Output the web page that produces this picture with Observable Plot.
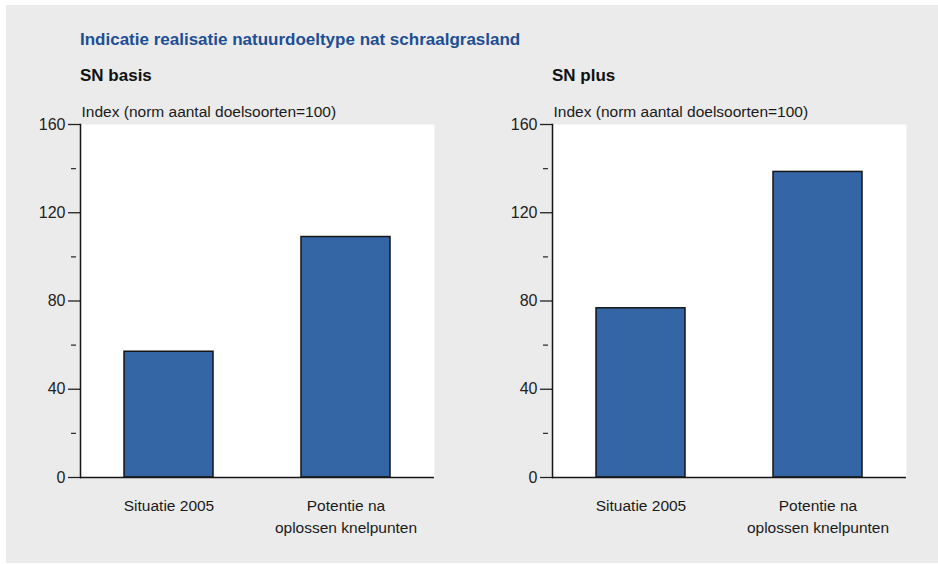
<!DOCTYPE html>
<html><head><meta charset="utf-8">
<script src="https://cdn.jsdelivr.net/npm/d3@7"></script>
<script src="https://cdn.jsdelivr.net/npm/@observablehq/plot@0.6"></script>
<style>
body{margin:0;background:#fff;font-family:"Liberation Sans",Arial,sans-serif;overflow:hidden;}
#panel{position:absolute;left:6px;top:5px;width:932px;height:558px;background:#ebebeb;}
.t{position:absolute;white-space:nowrap;line-height:17px;font-weight:bold;font-size:17px;color:#111;}
.chart{position:absolute;top:0;width:470px;height:564px;}
</style></head><body>
<div id="panel"></div>
<div id="c1" class="chart" style="left:0px"></div>
<div id="c2" class="chart" style="left:472px"></div>
<div class="t" id="title" style="left:80px;top:31px;color:#1c4f96"></div>
<div class="t" id="sub1" style="left:80px;top:67px"></div>
<div class="t" id="sub2" style="left:552px;top:67px"></div>
<script>
const titleText = "Indicatie realisatie natuurdoeltype nat schraalgrasland";
const panelTitles = ["SN basis", "SN plus"];
const categories = ["Situatie 2005", "Potentie na oplossen knelpunten"];
const categoryLabels = ["Situatie 2005", "Potentie na\noplossen knelpunten"];
const snBasisValues = [57, 109];
const snPlusValues = [76.7, 138.5];
const yMajorTicks = [0, 40, 80, 120, 160];
const yMinorTicks = [20, 60, 100, 140];
const yLabel = "Index (norm aantal doelsoorten=100)";

document.getElementById("title").textContent = titleText;
document.getElementById("sub1").textContent = panelTitles[0];
document.getElementById("sub2").textContent = panelTitles[1];

function chart(values) {
  const data = categories.map((c, i) => ({cat: c, label: categoryLabels[i], value: values[i]}));
  return Plot.plot({
    width: 470, height: 564,
    marginLeft: 80, marginRight: 36, marginTop: 124, marginBottom: 87,
    style: {background: "transparent", maxWidth: "none", fontFamily: "Liberation Sans, Arial, sans-serif", fontSize: "15.5px", color: "#1a1a1a"},
    x: {domain: categories, padding: 0.5, paddingOuter: 0.25, axis: null},
    y: {domain: [0, 160], axis: null},
    marks: [
      Plot.frame({fill: "white", stroke: null}),
      Plot.barY(data, {x: "cat", y: "value", fill: "#3466a6", stroke: "#161616", strokeWidth: 1.5}),
      Plot.axisY({ticks: yMajorTicks, tickSize: 12, tickPadding: 3, tickFormat: d => String(d), label: null, color: "#222", strokeWidth: 1.3, fontSize: 16}),
      Plot.axisY({ticks: yMinorTicks, tickSize: 5, tickFormat: () => "", label: null, color: "#333", strokeWidth: 1.3, dx: -4}),
      Plot.ruleY([0], {stroke: "#161616", strokeWidth: 1.5}),
      Plot.frame({anchor: "left", stroke: "#161616", strokeWidth: 1.5}),
      Plot.text(data, {x: "cat", text: "label", frameAnchor: "bottom", lineAnchor: "top", dy: 19, lineHeight: 1.36, fontSize: 15.5, fill: "#1a1a1a"}),
      Plot.text([yLabel], {text: d => d, frameAnchor: "top-left", textAnchor: "start", lineAnchor: "bottom", dy: -8, dx: 1, fontSize: 15.5, fill: "#1a1a1a"})
    ]
  });
}
document.getElementById("c1").append(chart(snBasisValues));
document.getElementById("c2").append(chart(snPlusValues));
</script>
</body></html>
